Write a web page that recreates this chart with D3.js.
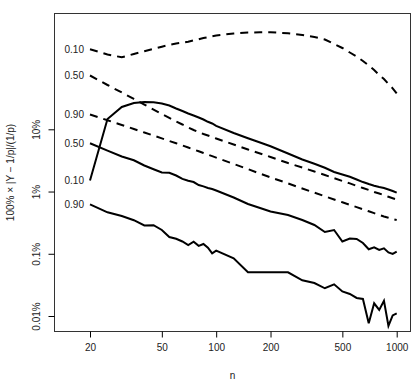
<!DOCTYPE html>
<html>
<head>
<meta charset="utf-8">
<script src="https://cdn.jsdelivr.net/npm/d3@7/dist/d3.min.js"></script>
<style>
  body { margin: 0; background: #fff; }
  text { font-family: "Liberation Sans", Arial, sans-serif; fill: #222; }
</style>
</head>
<body>
<div id="chart"></div>
<script>
// sample sizes
var nVals = [20,25,30,35,40,45,50,55,60,65,70,75,80,85,90,95,100,125,150,175,200,
             250,300,350,400,450,500,550,600,650,700,750,800,850,900,950,1000];

// dashed curves (p = 0.10, 0.50, 0.90), in %
var dash10 = [193.0,159.2,143.5,162.3,179.3,196.7,212.5,228.0,239.2,246.4,254.7,268.3,279.5,293.3,302.0,313.4,321.7,
              346.4,359.5,362.2,362.2,349.0,327.7,304.2,277.4,234.9,202.6,171.5,147.9,125.2,106.0,89.7,74.6,64.3,53.5,45.6,37.6];
var dash50 = [73.2,51.5,39.0,30.7,25.0,20.8,17.6,15.2,13.35,11.95,10.69,9.74,9.05,8.41,7.95,7.52,7.12,
              5.70,4.74,4.09,3.59,2.87,2.43,2.10,1.84,1.64,1.48,1.35,1.23,1.14,1.06,0.983,0.930,0.873,0.823,0.781,0.745];
var dash90 = [17.30,13.95,11.73,10.11,8.89,7.92,7.14,6.49,5.96,5.49,5.10,4.74,4.43,4.16,3.92,3.70,3.50,
              2.77,2.29,1.94,1.69,1.35,1.12,0.958,0.839,0.745,0.671,0.612,0.562,0.518,0.481,0.449,0.420,0.396,0.378,0.362,0.349];

// solid curves (p = 0.10, 0.50, 0.90), in %
var solid10 = [1.504,14.64,22.83,26.47,27.47,27.16,25.98,24.13,21.59,19.68,17.95,16.67,15.48,14.37,13.20,12.40,11.38,
               8.72,7.17,6.14,5.33,4.09,3.27,2.79,2.41,2.06,1.88,1.73,1.56,1.42,1.32,1.24,1.18,1.14,1.08,1.02,0.958];
var solid50 = [5.96,4.53,3.66,3.18,2.62,2.28,2.02,2.00,1.81,1.60,1.49,1.42,1.27,1.21,1.14,1.10,1.04,
               0.802,0.630,0.544,0.478,0.420,0.349,0.290,0.224,0.241,0.1575,0.176,0.173,0.149,0.118,0.127,0.115,0.1224,0.1048,0.0992,0.1079];
var solid90 = [0.623,0.464,0.404,0.346,0.2845,0.288,0.241,0.186,0.174,0.1575,0.1383,0.1563,0.1342,0.1435,0.1252,0.1017,0.1120,
               0.0846,0.0504,0.0504,0.0504,0.0504,0.0375,0.0339,0.0279,0.0323,0.0248,0.0226,0.0195,0.0188,0.00763,0.0160,0.0125,0.0176,0.00691,0.0102,0.0110];

var seriesList = [
  { values: dash10,  label: "0.10", dashed: true },
  { values: dash50,  label: "0.50", dashed: true },
  { values: dash90,  label: "0.90", dashed: true },
  { values: solid10, label: "0.10", dashed: false },
  { values: solid50, label: "0.50", dashed: false },
  { values: solid90, label: "0.90", dashed: false }
];

var xTicks = [20, 50, 100, 200, 500, 1000];
var yTicks = [10, 1, 0.1, 0.01];
var yTickLabels = ["10%", "1%", "0.1%", "0.01%"];

var width = 412, height = 380;
var box = { left: 54.5, right: 410.5, top: 13.5, bottom: 331.5 };

var svg = d3.select("#chart")
            .append("svg")
            .attr("width", width)
            .attr("height", height);

// scales (log-log)
var xScale = d3.scaleLog().domain([20, 1000]).range([90, 396.7]);
var yScale = d3.scaleLog().domain([0.01, 10]).range([316, 129.3]);

// curves
var line = d3.line()
             .x(function(d) { return xScale(d[0]); })
             .y(function(d) { return yScale(d[1]); });

seriesList.forEach(function(s) {
  var pts = nVals.map(function(n, i) { return [n, s.values[i]]; });
  svg.append("path")
     .datum(pts)
     .attr("d", line)
     .attr("fill", "none")
     .attr("stroke", "#000")
     .attr("stroke-width", 2)
     .attr("stroke-dasharray", s.dashed ? "8,6" : null);

  svg.append("text")
     .attr("x", xScale(nVals[0]) - 6)
     .attr("y", yScale(s.values[0]))
     .attr("dy", "0.35em")
     .attr("text-anchor", "end")
     .style("font-size", "10px")
     .text(s.label);
});

// box
svg.append("rect")
   .attr("x", box.left)
   .attr("y", box.top)
   .attr("width", box.right - box.left)
   .attr("height", box.bottom - box.top)
   .attr("fill", "none")
   .attr("stroke", "#333")
   .attr("stroke-width", 1);

// x axis
var xAxis = svg.append("g")
   .attr("transform", "translate(0," + box.bottom + ")")
   .call(d3.axisBottom(xScale).tickValues(xTicks).tickFormat(d3.format("d")).tickSize(6).tickPadding(6));
xAxis.select(".domain").remove();
xAxis.selectAll("text").style("font-size", "10px").attr("fill", "#222");

// y axis
var yAxis = svg.append("g")
   .attr("transform", "translate(" + box.left + ",0)")
   .call(d3.axisLeft(yScale).tickValues(yTicks).tickSize(6).tickFormat(function(d, i) { return yTickLabels[i]; }));
yAxis.select(".domain").remove();
yAxis.selectAll("text")
     .attr("x", null).attr("dy", null)
     .attr("text-anchor", "middle")
     .attr("transform", function(d) { return "translate(" + (36.5 - box.left) + ",0) rotate(-90)"; })
     .attr("dy", "0.35em")
     .style("font-size", "10px")
     .attr("fill", "#222");

// axis titles
svg.append("text")
   .attr("x", (box.left + box.right) / 2)
   .attr("y", 375)
   .attr("dy", "0.35em")
   .attr("text-anchor", "middle")
   .style("font-size", "10px")
   .text("n");

svg.append("text")
   .attr("transform", "translate(10.5," + ((box.top + box.bottom) / 2) + ") rotate(-90)")
   .attr("dy", "0.35em")
   .attr("text-anchor", "middle")
   .style("font-size", "10px")
   .text("100% \u00d7 |Y \u2212 1/p|/(1/p)");
</script>
</body>
</html>
